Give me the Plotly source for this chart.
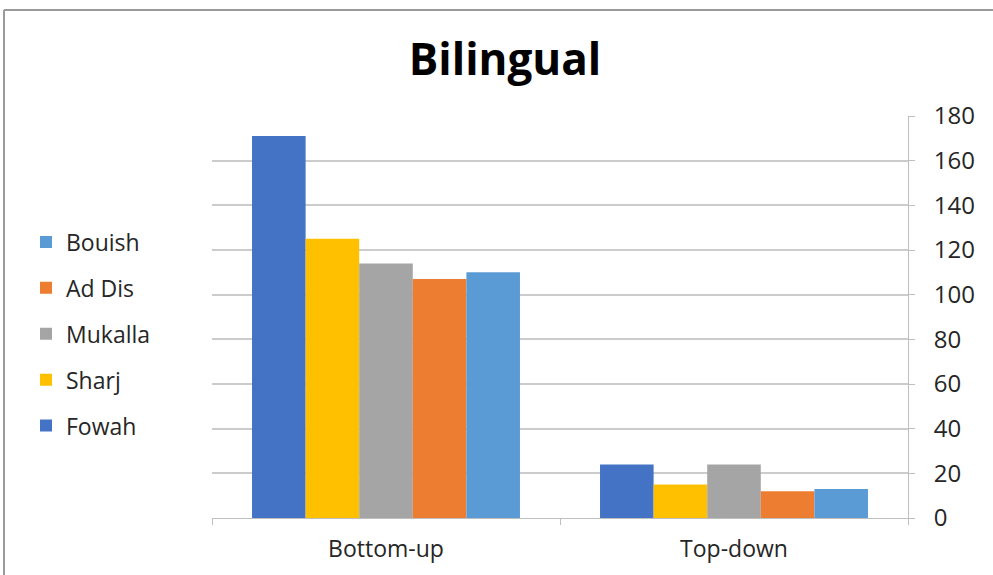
import plotly.graph_objects as go

categories = ["Bottom-up", "Top-down"]
series_names = ["Fowah", "Sharj", "Mukalla", "Ad Dis", "Bouish"]
fowah = [171, 24]
sharj = [125, 15]
mukalla = [114, 24]
ad_dis = [107, 12]
bouish = [110, 13]
y_ticks = [0, 20, 40, 60, 80, 100, 120, 140, 160, 180]

colors = ["#4472C4", "#FFC000", "#A5A5A5", "#ED7D31", "#5B9BD5"]
values = [fowah, sharj, mukalla, ad_dis, bouish]

fig = go.Figure()
n = len(series_names)
for i, (name, vals, col) in enumerate(zip(series_names, values, colors)):
    fig.add_trace(go.Bar(x=categories, y=vals, name=name, marker_color=col,
                         marker_line_width=0, legendgroup=name,
                         legendrank=n - i))

L, R, T, B = 212, 85, 116, 57
W, H = 993, 575
pw = W - L - R
ph = H - T - B

def px_x(p):
    return (p - L) / pw

def px_y(p):
    return (H - B - p) / ph

FONT = "Open Sans, DejaVu Sans, sans-serif"
fig.update_layout(
    width=W, height=H,
    margin=dict(l=L, r=R, t=T, b=B),
    paper_bgcolor="white", plot_bgcolor="white",
    barmode="group", bargap=0.23, bargroupgap=0,
    font=dict(family=FONT, color="#404040", size=22),
    title=dict(text="<b>Bilingual</b>", x=505 / W, xanchor="center",
               y=1 - 60 / H, yanchor="middle",
               font=dict(size=44, color="#000000", family=FONT)),
    legend=dict(x=px_x(26), xanchor="left", y=px_y(334), yanchor="middle",
                traceorder="grouped", tracegroupgap=13,
                font=dict(size=23, color="#262626", family=FONT),
                bgcolor="rgba(0,0,0,0)"),
    xaxis=dict(showline=True, linecolor="#bfbfbf", linewidth=1,
               ticks="outside", tickson="boundaries", tickcolor="#bfbfbf",
               ticklen=6, ticklabelstandoff=10,
               tickfont=dict(size=23, color="#262626"), showgrid=False),
    yaxis=dict(side="right", range=[0, 180], tickvals=y_ticks,
               showgrid=True, gridcolor="#cccccc", gridwidth=1.5,
               showline=True, linecolor="#bfbfbf", linewidth=1,
               ticks="outside", tickcolor="#bfbfbf", ticklen=6,
               ticklabelstandoff=14,
               tickfont=dict(size=24, color="#262626"), zeroline=False),
    showlegend=True,
)

fig.add_shape(type="line", xref="paper", yref="paper",
              x0=px_x(4), x1=px_x(993), y0=px_y(10), y1=px_y(10),
              line=dict(color="#9a9a9a", width=2))
fig.add_shape(type="line", xref="paper", yref="paper",
              x0=px_x(4), x1=px_x(4), y0=px_y(10), y1=px_y(575),
              line=dict(color="#9a9a9a", width=2))

fig.write_html("out.html")
